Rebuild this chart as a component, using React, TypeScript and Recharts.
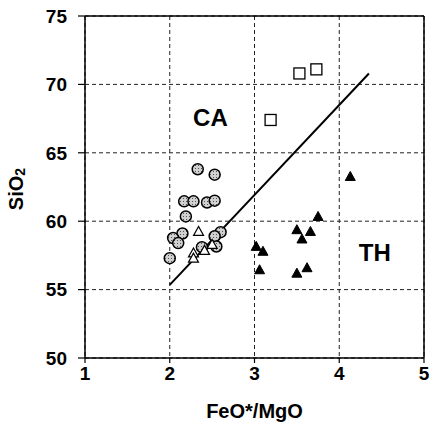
import React from 'react';
import {
  ScatterChart,
  Scatter,
  XAxis,
  YAxis,
  CartesianGrid,
  ReferenceLine,
  Label,
} from 'recharts';

// Data
const xTicks = [1, 2, 3, 4, 5];
const yTicks = [50, 55, 60, 65, 70, 75];

const circles = [
  { x: 2.33, y: 63.8 },
  { x: 2.53, y: 63.4 },
  { x: 2.17, y: 61.45 },
  { x: 2.28, y: 61.45 },
  { x: 2.44, y: 61.37 },
  { x: 2.53, y: 61.5 },
  { x: 2.19, y: 60.35 },
  { x: 2.15, y: 59.1 },
  { x: 2.04, y: 58.77 },
  { x: 2.1, y: 58.4 },
  { x: 2.0, y: 57.3 },
  { x: 2.6, y: 59.2 },
  { x: 2.53, y: 58.9 },
  { x: 2.55, y: 58.15 },
  { x: 2.38, y: 58.1 },
];

const openTriangles = [
  { x: 2.34, y: 59.25 },
  { x: 2.28, y: 57.68 },
  { x: 2.28, y: 57.3 },
  { x: 2.41, y: 57.87 },
  { x: 2.5, y: 58.3 },
];

const filledTriangles = [
  { x: 3.02, y: 58.16 },
  { x: 3.1, y: 57.8 },
  { x: 3.06, y: 56.45 },
  { x: 4.13, y: 63.27 },
  { x: 3.75, y: 60.35 },
  { x: 3.5, y: 59.38 },
  { x: 3.66, y: 59.25 },
  { x: 3.56, y: 58.7 },
  { x: 3.5, y: 56.2 },
  { x: 3.62, y: 56.6 },
];

const squares = [
  { x: 3.19, y: 67.4 },
  { x: 3.53, y: 70.8 },
  { x: 3.73, y: 71.1 },
];

const boundary = [
  { x: 2.0, y: 55.35 },
  { x: 4.35, y: 70.8 },
];

const fieldLabels = [
  { x: 2.48, y: 67.6, text: 'CA' },
  { x: 4.42, y: 57.7, text: 'TH' },
];

const FONT = '"Liberation Sans", Arial, Helvetica, sans-serif';

const CircleShape = (p: any) => (
  <circle cx={p.cx} cy={p.cy} r={5.5} fill="url(#stipple)" stroke="#000" strokeWidth={1.5} />
);

const OpenTri = (p: any) => {
  const { cx, cy } = p;
  return (
    <polygon
      points={`${cx},${cy - 5} ${cx - 5},${cy + 4} ${cx + 5},${cy + 4}`}
      fill="#fff"
      stroke="#000"
      strokeWidth={1.2}
    />
  );
};

const FilledTri = (p: any) => {
  const { cx, cy } = p;
  return (
    <polygon
      points={`${cx},${cy - 5} ${cx - 5},${cy + 4} ${cx + 5},${cy + 4}`}
      fill="#000"
      stroke="#000"
      strokeWidth={1}
    />
  );
};

const SquareShape = (p: any) => (
  <rect x={p.cx - 5.5} y={p.cy - 5.5} width={11} height={11} fill="#fff" stroke="#000" strokeWidth={1.3} />
);

const TextShape = (p: any) => (
  <text
    x={p.cx}
    y={p.cy}
    textAnchor="middle"
    dominantBaseline="central"
    fontFamily={FONT}
    fontWeight="bold"
    fontSize={24}
    fill="#000"
  >
    {p.payload.text}
  </text>
);

const YLabel = (props: any) => {
  const vb = props.viewBox || {};
  const cx = 16;
  const cy = vb.y + vb.height / 2 + 2;
  return (
    <text
      transform={`translate(${cx},${cy}) rotate(-90)`}
      textAnchor="middle"
      dominantBaseline="central"
      fontFamily={FONT}
      fontWeight="bold"
      fontSize={20}
      fill="#000"
    >
      SiO
      <tspan fontSize={14} dy={4}>2</tspan>
    </text>
  );
};

const XLabel = (props: any) => {
  const vb = props.viewBox || {};
  return (
    <text
      x={vb.x + vb.width / 2}
      y={418}
      textAnchor="middle"
      fontFamily={FONT}
      fontWeight="bold"
      fontSize={20}
      fill="#000"
    >
      FeO*/MgO
    </text>
  );
};

export default function App() {
  return (
    <div style={{ position: 'absolute', left: 0, top: 0, width: 430, height: 424, background: '#fff' }}>
      <ScatterChart
        width={430}
        height={424}
        margin={{ top: 16, right: 6, bottom: 26, left: 30 }}
      >
        <defs>
          <pattern id="stipple" width="3" height="3" patternUnits="userSpaceOnUse">
            <rect width="3" height="3" fill="#d0d0d0" />
            <rect width="1" height="1" fill="#555" />
          </pattern>
        </defs>
        <CartesianGrid stroke="#222" strokeDasharray="4 3" strokeWidth={1} />
        <XAxis
          type="number"
          dataKey="x"
          domain={[1, 5]}
          ticks={xTicks}
          height={40}
          tickSize={5}
          tickMargin={4}
          axisLine={{ stroke: '#000', strokeWidth: 1.5 }}
          tickLine={{ stroke: '#000', strokeWidth: 1.2 }}
          tick={{ fill: '#000', fontFamily: FONT, fontWeight: 'bold', fontSize: 19 }}
          allowDataOverflow
        >
          <Label content={<XLabel />} />
        </XAxis>
        <YAxis
          type="number"
          dataKey="y"
          domain={[50, 75]}
          ticks={yTicks}
          width={55}
          tickSize={7}
          tickMargin={11}
          axisLine={{ stroke: '#000', strokeWidth: 1.5 }}
          tickLine={{ stroke: '#000', strokeWidth: 1.2 }}
          tick={{ fill: '#000', fontFamily: FONT, fontWeight: 'bold', fontSize: 19 }}
          allowDataOverflow
        >
          <Label content={<YLabel />} />
        </YAxis>
        <ReferenceLine y={75} stroke="#000" strokeWidth={1.5} />
        <ReferenceLine x={5} stroke="#000" strokeWidth={1.5} />
        <ReferenceLine segment={boundary} stroke="#000" strokeWidth={2} />
        <Scatter data={circles} shape={CircleShape} isAnimationActive={false} />
        <Scatter data={openTriangles} shape={OpenTri} isAnimationActive={false} />
        <Scatter data={filledTriangles} shape={FilledTri} isAnimationActive={false} />
        <Scatter data={squares} shape={SquareShape} isAnimationActive={false} />
        <Scatter data={fieldLabels} shape={TextShape} isAnimationActive={false} />
      </ScatterChart>
    </div>
  );
}
